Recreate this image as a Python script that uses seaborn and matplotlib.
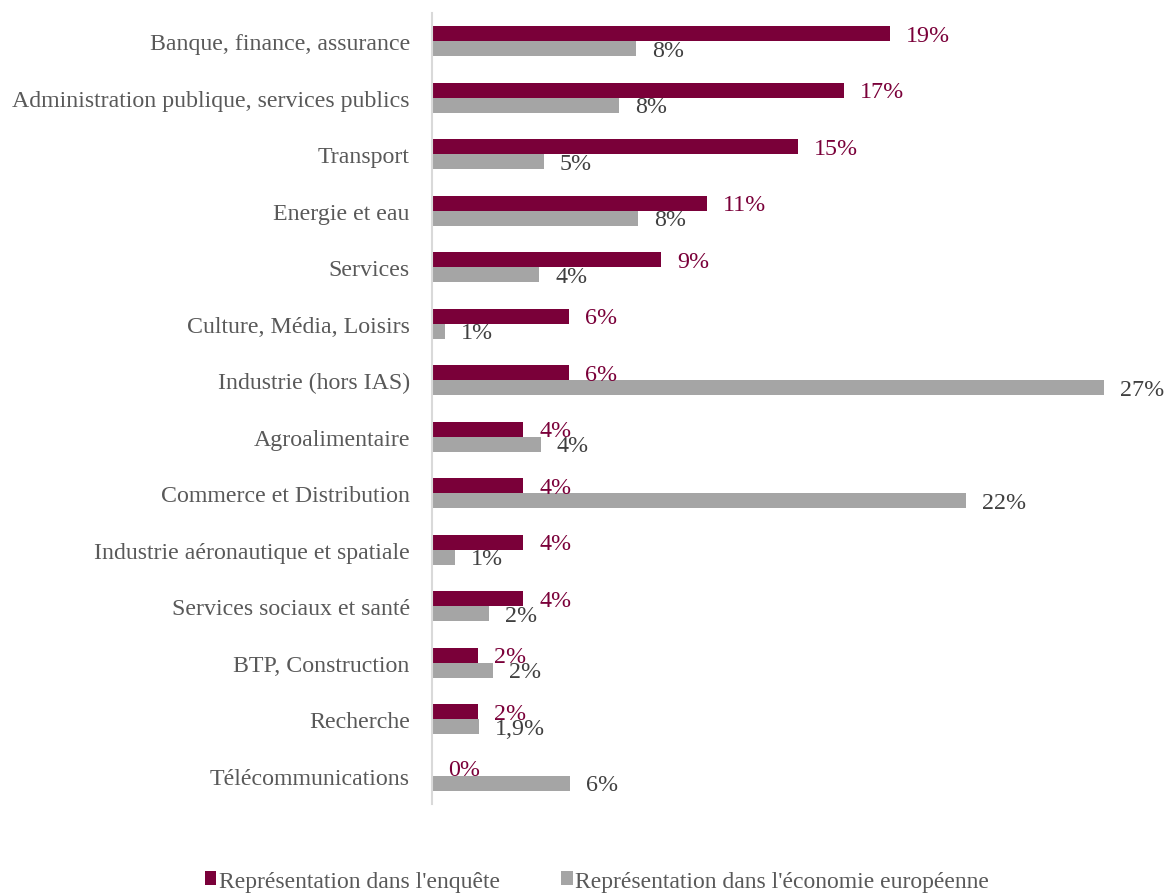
import matplotlib
matplotlib.use("Agg")
import matplotlib.pyplot as plt
import seaborn as sns
import pandas as pd

# Sectors, in display order (top to bottom)
sectors = [
    "Banque, finance, assurance",
    "Administration publique, services publics",
    "Transport",
    "Energie et eau",
    "Services",
    "Culture, Média, Loisirs",
    "Industrie (hors IAS)",
    "Agroalimentaire",
    "Commerce et Distribution",
    "Industrie aéronautique et spatiale",
    "Services sociaux et santé",
    "BTP, Construction",
    "Recherche",
    "Télécommunications",
]

# Share of respondents in the survey (%)
survey_pct = [18.52, 16.67, 14.81, 11.11, 9.26, 5.56, 5.56,
              3.70, 3.70, 3.70, 3.70, 1.85, 1.85, 0.0]

# Share of the sector in the European economy (%)
economy_pct = [8.25, 7.56, 4.53, 8.33, 4.33, 0.53, 27.2,
               4.40, 21.6, 0.93, 2.30, 2.47, 1.90, 5.58]

# Decimals shown in the economy labels (default 0)
economy_label_decimals = {"Recherche": 1}

series_names = ["Représentation dans l'enquête",
                "Représentation dans l'économie européenne"]

MAROON = "#7A0039"
GREY = "#A5A5A5"

df = pd.DataFrame({
    "Secteur": sectors * 2,
    "Part": survey_pct + economy_pct,
    "Série": [series_names[0]] * len(sectors) + [series_names[1]] * len(sectors),
})

sns.set_style("white")
plt.rcParams["font.family"] = ["Liberation Serif", "DejaVu Serif"]

W, H = 1166, 895
fig = plt.figure(figsize=(W / 100, H / 100), dpi=100)
ax = fig.add_axes([432 / W, 1 - 805 / H, (1149 - 432) / W, (805 - 14) / H])

sns.barplot(
    data=df, y="Secteur", x="Part", hue="Série", order=sectors,
    hue_order=series_names, palette=[MAROON, GREY], orient="h",
    width=0.53, dodge=True, ax=ax, saturation=1, errorbar=None,
    linewidth=0,
)

ax.set_xlim(0, 29)
ax.set_ylim(13.5, -0.5)
ax.set_xlabel("")
ax.set_ylabel("")
ax.set_xticks([])
ax.tick_params(axis="y", length=0, pad=16, labelsize=17.2, labelcolor="#595959")

for side in ["top", "right", "bottom"]:
    ax.spines[side].set_visible(False)
ax.spines["left"].set_color("#D9D9D9")
ax.spines["left"].set_linewidth(1.5)

# Value labels next to each bar
def fmt(v, dec):
    return f"{v:.{dec}f}".replace(".", ",") + "%"

for container, values, color, key in zip(
        ax.containers, [survey_pct, economy_pct], [MAROON, "#404040"], ["s", "e"]):
    for bar, sector, v in zip(container, sectors, values):
        dec = economy_label_decimals.get(sector, 0) if key == "e" else 0
        y = bar.get_y() + bar.get_height() / 2
        ax.annotate(fmt(v, dec), xy=(bar.get_width(), y), xytext=(11.5, -1.2),
                    textcoords="offset points", ha="left", va="center",
                    fontsize=17.3, color=color, annotation_clip=False)

sns.move_legend(
    ax, "center", bbox_to_anchor=(0.512, 0.0145), bbox_transform=fig.transFigure,
    ncol=2, frameon=False, title=None, fontsize=17, handlelength=0.5,
    handleheight=0.5, handletextpad=0.1, columnspacing=2.6,
    labelcolor="#595959",
)

fig.savefig("out.png", dpi=100, facecolor="white")
